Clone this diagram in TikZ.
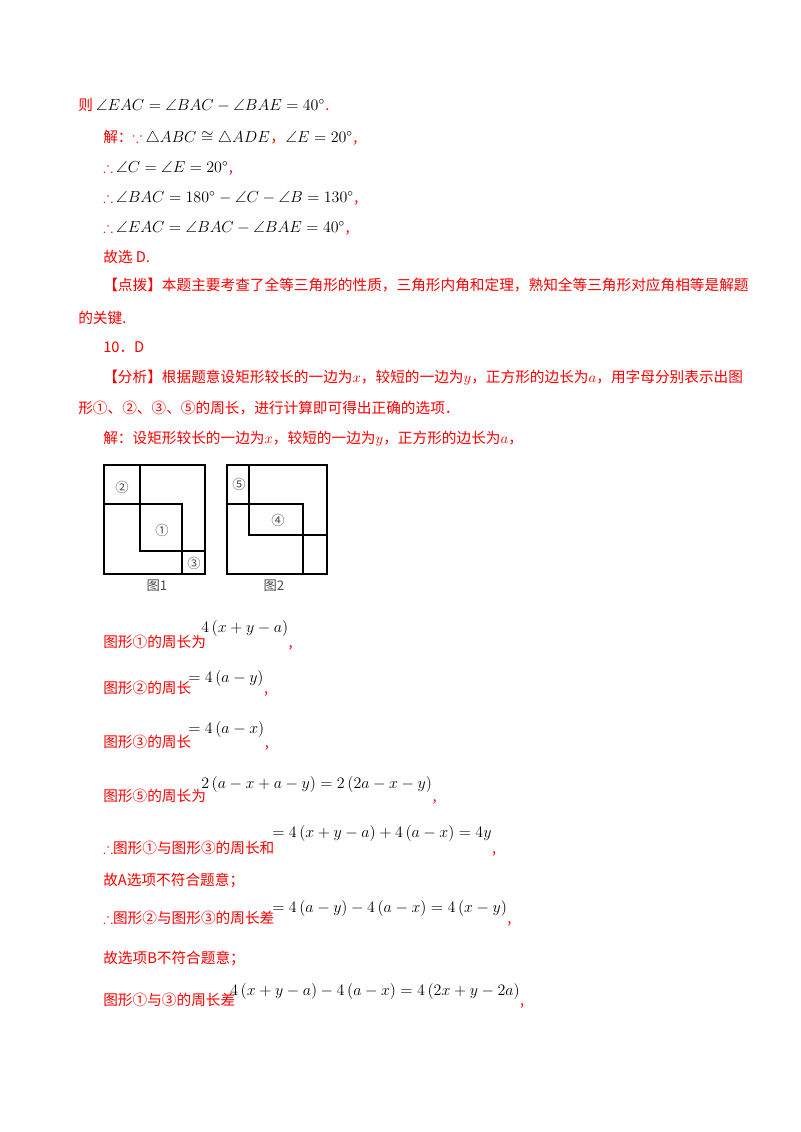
\documentclass[tikz,border=0pt]{standalone}
\usepackage{fontspec}
\usepackage{amssymb}
\setmainfont{Liberation Serif}
\newfontfamily\cjk{Noto Sans CJK SC}
\definecolor{rd}{RGB}{255,0,0}
\begin{document}
\begin{tikzpicture}[x=0.75pt,y=-0.75pt,
  t/.style={anchor=base west,inner sep=0pt,font=\cjk\fontsize{11}{13}\selectfont,text=rd},
  m/.style={anchor=base west,inner sep=0pt,font=\fontsize{12}{14}\selectfont,text=black},
  fig/.style={line width=1.1pt},
  lab/.style={inner sep=0pt,font=\cjk\fontsize{10}{12}\selectfont,text=black!70}]
\useasboundingbox (0,0) rectangle (800,1132);
\node[t] (l1) at (78,110) {则};
\node[m] (l1m) at (l1.base east) {$\,\angle EAC=\angle BAC-\angle BAE=40^\circ$};
\node[t] at (l1m.base east) {.};
\node[t] (l2) at (103,142) {解：$\because$};
\node[m] (l2m) at (l2.base east) {$\,\triangle ABC\cong\triangle ADE$};
\node[t] (l2c) at (l2m.base east) {，};
\node[m] (l2n) at (l2c.base east) {$\angle E=20^\circ$};
\node[t] at (l2n.base east) {,};
\node[t] (l3) at (103,172) {$\therefore$};
\node[m] (l3m) at (l3.base east) {$\,\angle C=\angle E=20^\circ$};
\node[t] at (l3m.base east) {,};
\node[t] (l4) at (103,202) {$\therefore$};
\node[m] (l4m) at (l4.base east) {$\,\angle BAC=180^\circ-\angle C-\angle B=130^\circ$};
\node[t] at (l4m.base east) {,};
\node[t] (l5) at (103,232) {$\therefore$};
\node[m] (l5m) at (l5.base east) {$\,\angle EAC=\angle BAC-\angle BAE=40^\circ$};
\node[t] at (l5m.base east) {,};
\node[t] at (103,262) {故选 D.};
\node[t] at (103,290) {【点拨】本题主要考查了全等三角形的性质，三角形内角和定理，熟知全等三角形对应角相等是解题};
\node[t] at (78,323) {的关键.};
\node[t] at (103,352) {10．D};
\node[t] at (103,382) {【分析】根据题意设矩形较长的一边为$x$，较短的一边为$y$，正方形的边长为$a$，用字母分别表示出图};
\node[t] at (78,413) {形①、②、③、⑤的周长，进行计算即可得出正确的选项．};
\node[t] at (103,443) {解：设矩形较长的一边为$x$，较短的一边为$y$，正方形的边长为$a$，};
% figure 1
\draw[fig] (104,465) rectangle (205,574);
\draw[fig] (140,465) -- (140,551) -- (205,551);
\draw[fig] (104,504) -- (182,504) -- (182,574);
\node[lab] at (122,487) {②};
\node[lab] at (162,530) {①};
\node[lab] at (194,563) {③};
\node[lab,anchor=base] at (157,590) {图1};
% figure 2
\draw[fig] (227,465) rectangle (327,574);
\draw[fig] (249,465) -- (249,535) -- (327,535);
\draw[fig] (227,504) -- (303,504) -- (303,574);
\node[lab] at (239,484) {⑤};
\node[lab] at (278,520) {④};
\node[lab,anchor=base] at (274,590) {图2};
% formulas
\node[t] (f1) at (103,647) {图形①的周长为};
\node[m] (f1m) at (201,632) {$4\left(x+y-a\right)$};
\node[t] at (f1m.base east |- f1.base) {,};
\node[t] (f2) at (103,693) {图形②的周长};
\node[m] (f2m) at (188,682) {$=4\left(a-y\right)$};
\node[t] at (f2m.base east |- f2.base) {,};
\node[t] (f3) at (103,747) {图形③的周长};
\node[m] (f3m) at (188,733) {$=4\left(a-x\right)$};
\node[t] at (f3m.base east |- f3.base) {,};
\node[t] (f5) at (103,801) {图形⑤的周长为};
\node[m] (f5m) at (201,788) {$2\left(a-x+a-y\right)=2\left(2a-x-y\right)$};
\node[t] at (f5m.base east |- f5.base) {,};
\node[t] (f6) at (103,853) {$\therefore$图形①与图形③的周长和};
\node[m] (f6m) at (272,837) {$=4\left(x+y-a\right)+4\left(a-x\right)=4y$};
\node[t] at (f6m.base east |- f6.base) {,};
\node[t] at (103,885) {故A选项不符合题意；};
\node[t] (f7) at (103,923) {$\therefore$图形②与图形③的周长差};
\node[m] (f7m) at (272,912) {$=4\left(a-y\right)-4\left(a-x\right)=4\left(x-y\right)$};
\node[t] at (f7m.base east |- f7.base) {,};
\node[t] at (103,963) {故选项B不符合题意；};
\node[t] (f8) at (103,1005) {图形①与③的周长差};
\node[m] (f8m) at (230,995) {$4\left(x+y-a\right)-4\left(a-x\right)=4\left(2x+y-2a\right)$};
\node[t] at (f8m.base east |- f8.base) {,};
\end{tikzpicture}
\end{document}
